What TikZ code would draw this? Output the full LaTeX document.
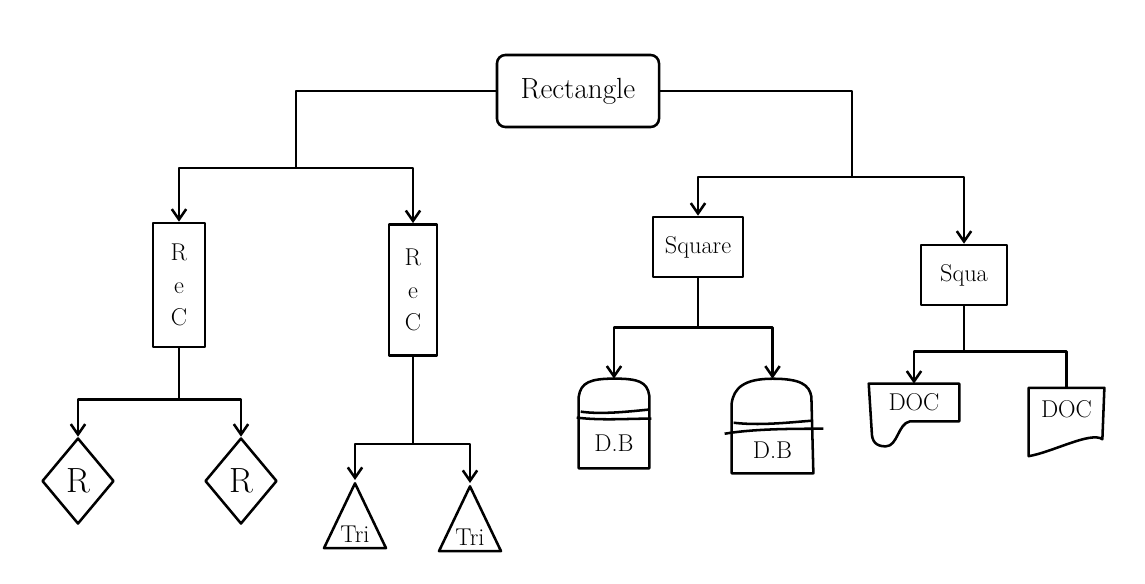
\documentclass[tikz,border=0pt]{standalone}
\usepackage{tikz}
\usetikzlibrary{arrows.meta, calc, positioning, shapes.geometric}

\begin{document}
\begin{tikzpicture}[x=0.025cm, y=-0.025cm, line width=1.8pt, line join=round,
    box/.style={draw, rectangle, inner sep=0pt, align=center},
    dia/.style={draw, diamond, inner sep=0pt, minimum width=1.8cm, minimum height=2.15cm, font=\Huge},
    tri/.style={draw, isosceles triangle, shape border rotate=90, isosceles triangle stretches, inner sep=0pt, minimum width=1.55cm, minimum height=1.62cm, font=\LARGE},
    arr/.style={-{Straight Barb[length=2.6mm, width=3.6mm]}}]
    \useasboundingbox (0,0) rectangle (1145,584);

    % Top
    \node[box, rounded corners=6pt, minimum width=4.05cm, minimum height=1.8cm, font=\huge] (rect) at (578,91) {Rectangle};

    % Left branch
    \node[box, minimum width=1.3cm, minimum height=3.1cm, font=\LARGE] (rec1) at (179,285) {R\\[1pt]e\\[1pt]C};
    \node[box, minimum width=1.2cm, minimum height=3.28cm, font=\LARGE] (rec2) at (413,290) {R\\[1pt]e\\[1pt]C};

    % Right branch
    \node[box, minimum width=2.25cm, minimum height=1.5cm, font=\LARGE] (square) at (698,247) {Square};
    \node[box, minimum width=2.15cm, minimum height=1.5cm, font=\LARGE] (squa) at (964,275) {Squa};

    % Diamonds and triangles
    \node[dia] (r1) at (78,481) {R};
    \node[dia] (r2) at (241,481) {R};
    \node[tri, anchor=apex] (t1) at (355,480) {Tri};
    \node[tri, anchor=apex] (t2) at (470,483) {Tri};

    % Databases
    \node[minimum width=1.7cm, minimum height=2.18cm, label={[font=\LARGE, yshift=-0.5cm]center:D.B}] (db1) at (614,423.5) {};
    \node[minimum width=1.98cm, minimum height=2.3cm, label={[font=\LARGE, yshift=-0.6cm]center:D.B}] (db2) at (772.5,426) {};
    \draw ($(db1.north west)+(0,18)$) .. controls +(2,-14) and +(-24,0) .. (db1.north)
        .. controls +(24,0) and +(-2,-14) .. ($(db1.north east)+(0,17)$)
        -- (db1.south east) -- (db1.south west) -- cycle;
    \draw ($(db1.north west)+(2,33)$) .. controls +(20,3) and +(-20,2) .. ($(db1.north east)+(-1,31)$);
    \draw ($(db1.north west)+(-2,39)$) .. controls +(25,3) and +(-25,0) .. ($(db1.north east)+(2,40)$);
    \draw ($(db2.north west)+(0,25)$) .. controls +(2,-16) and +(-28,0) .. (db2.north)
        .. controls +(28,0) and +(-2,-12) .. ($(db2.north east)+(-2,18)$)
        -- (db2.south east) -- (db2.south west) -- cycle;
    \draw ($(db2.north west)+(2,44)$) .. controls +(25,3) and +(-25,2) .. ($(db2.north east)+(-2,42)$);
    \draw ($(db2.north west)+(-7,55)$) .. controls +(30,-5) and +(-30,0) .. ($(db2.north east)+(10,50)$);

    % Documents
    \node[minimum width=2.2cm, minimum height=0.88cm, font=\LARGE] (doc1) at (914,402.5) {DOC};
    \node[minimum width=1.83cm, minimum height=1.02cm, font=\LARGE] (doc2) at (1066.5,409.5) {DOC};
    \draw (doc1.north west) -- (doc1.north east) -- (doc1.south east) -- ($(doc1.south)+(-4,0)$)
        .. controls +(-12,2) and +(12,0) .. ($(doc1.south west)+(17,25)$)
        .. controls +(-10,0) and +(0,10) .. ($(doc1.south west)+(3,10)$) -- cycle;
    \draw (doc2.north west) -- (doc2.north east) -- ($(doc2.south east)+(-2,8)$)
        .. controls +(-12,-8) and +(24,-4) .. ($(doc2.south west)+(0,25)$) -- cycle;

    % Connectors
    \coordinate (jl) at (296,168);
    \coordinate (jr) at (852,177);
    \draw (rect.west) -| (jl);
    \draw[arr] (jl) -| (rec1.north);
    \draw[arr] (jl) -| (rec2.north);
    \draw (rect.east) -| (jr);
    \draw[arr] (jr) -| (square.north);
    \draw[arr] (jr) -| (squa.north);

    \draw (rec1.south) -- ++(0,51) coordinate (j1);
    \draw[arr] (j1) -| (r1.north);
    \draw[arr] (j1) -| (r2.north);
    \draw (rec2.south) -- ++(0,87) coordinate (j2);
    \draw[arr] (j2) -| (t1.apex);
    \draw[arr] (j2) -| (t2.apex);
    \draw (square.south) -- ++(0,49) coordinate (j3);
    \draw[arr] (j3) -| (db1.north);
    \draw[arr] (j3) -| (db2.north);
    \draw (squa.south) -- ++(0,45) coordinate (j4);
    \draw[arr] (j4) -| (doc1.north);
    \draw (j4) -| (doc2.north);
\end{tikzpicture}
\end{document}
